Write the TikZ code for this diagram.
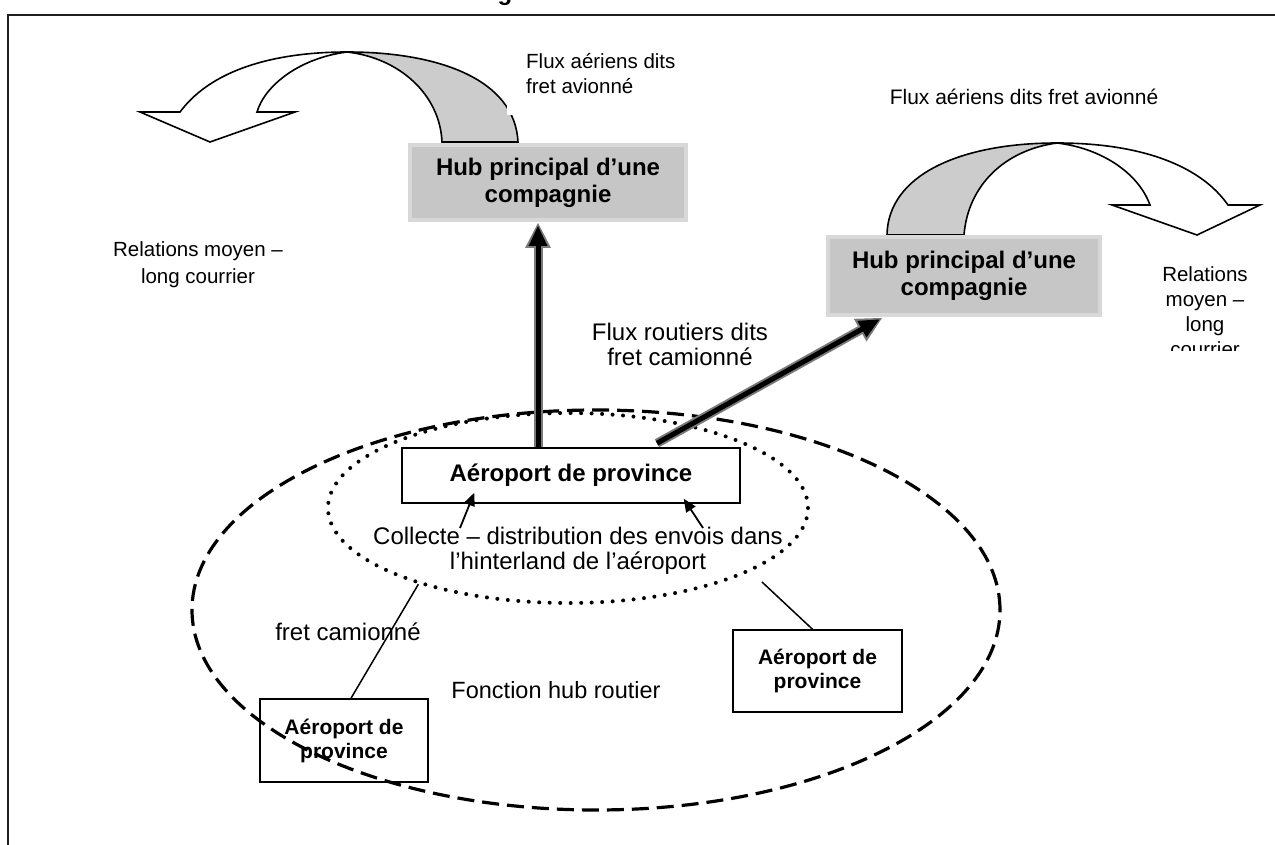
\documentclass[tikz,border=0pt]{standalone}
\usepackage{fontspec}
\setmainfont{Liberation Sans}
\usetikzlibrary{shapes.geometric,arrows.meta,calc}
\definecolor{hubgray}{HTML}{C6C6C6}
\definecolor{hubedge}{HTML}{D8D8D8}
\definecolor{arrowgray}{HTML}{CCCCCC}
\definecolor{shadowgray}{HTML}{7A7A7A}
\begin{document}
\begin{tikzpicture}[x=1pt,y=-1pt,
  lbl/.style={align=center,inner sep=0pt,font=\fontsize{24}{25}\selectfont},
  smalllbl/.style={align=center,inner sep=0pt,font=\fontsize{20.5}{25}\selectfont},
  hub/.style={rectangle,fill=hubgray,draw=hubedge,line width=4pt,align=center,
    font=\bfseries\fontsize{24}{27}\selectfont,inner sep=0pt},
  airport/.style={rectangle,fill=white,draw=black,line width=1.5pt,align=center,inner sep=0pt},
  ribbon/.style={draw=black,line width=1.6pt,line join=miter},
  bigshadow/.style={draw=shadowgray,line width=9pt,-{Triangle[length=25pt,width=26pt,line width=0pt]}},
  bigcore/.style={draw=black,line width=5pt,shorten >=3pt,-{Triangle[length=20pt,width=19pt,line width=0pt]}},
  thinarrow/.style={draw=black,line width=1.8pt,-{Triangle[length=13pt,width=11pt]}},
  thinline/.style={draw=black,line width=1.5pt},
  dashedell/.style={ellipse,draw=black,line width=3.2pt,dash pattern=on 17pt off 8pt,inner sep=0pt},
  dottedell/.style={ellipse,draw=black,line width=4pt,line cap=round,dash pattern=on 0pt off 10.5pt,inner sep=0pt}
]
\useasboundingbox (0,0) rectangle (1275,845);
\clip (0,0) rectangle (1275,845);

% page frame and cut title
\draw[line width=2.5pt,draw=black!88] (8,880) -- (8,15) -- (1300,15);
\node[anchor=base,inner sep=0pt,font=\bfseries\fontsize{24}{24}\selectfont] (titlefrag) at (505,1) {g};

% left curved arrow (ribbon)
\filldraw[ribbon,fill=arrowgray] (442,142) .. controls (440,95) and (400,58) .. (347,52)
   .. controls (440,52) and (515,80) .. (518,142) -- cycle;
\filldraw[ribbon,fill=white] (347,52) .. controls (300,58) and (265,85) .. (257,112)
   -- (295,112) -- (210,142) -- (140,112) -- (180,112)
   .. controls (215,65) and (285,52) .. (347,52) -- cycle;

% right curved arrow (ribbon)
\filldraw[ribbon,fill=arrowgray] (887,235) .. controls (888,175) and (960,143) .. (1057,143)
   .. controls (1005,150) and (968,185) .. (964,235) -- cycle;
\filldraw[ribbon,fill=white] (1057,143) .. controls (1100,148) and (1138,172) .. (1150,205)
   -- (1112,205) -- (1197,235) -- (1260,205) -- (1228,205)
   .. controls (1200,165) and (1140,143) .. (1057,143) -- cycle;

% labels of the air flows
\node[smalllbl,align=left,fill=white,inner xsep=19pt,inner ysep=21pt,anchor=south west] (fluxL) at (507,115) {Flux aériens dits\\fret avionné};
\node[lbl,font=\fontsize{21}{25}\selectfont] (fluxR) at (1024,97) {Flux aériens dits fret avionné};
\node[smalllbl,font=\fontsize{20.5}{27}\selectfont] (relL) at (198,265) {Relations moyen –\\long courrier};
\begin{scope}
  \clip (1120,255) rectangle (1275,350);
  \node[smalllbl] (relR) at (1205,311.5) {Relations\\moyen –\\long\\courrier};
\end{scope}

% hubs
\node[hub,minimum width=276pt,minimum height=75pt] (hubL) at (548,182.5) {Hub principal d’une\\compagnie};
\node[hub,minimum width=272pt,minimum height=78pt] (hubR) at (964,276) {Hub principal d’une\\compagnie};

% airports
\node[airport,minimum width=338pt,minimum height=55pt,font=\bfseries\fontsize{24}{27}\selectfont] (central) at (571,475.5) {Aéroport de province};
\node[airport,minimum width=168pt,minimum height=83pt,font=\bfseries\fontsize{21}{24}\selectfont] (boxLL) at (344,740.5) {Aéroport de\\province};
\node[airport,minimum width=169pt,minimum height=82pt,font=\bfseries\fontsize{21}{24}\selectfont] (boxR) at (817.5,671) {Aéroport de\\province};

% ellipses
\node[dashedell,minimum width=808pt,minimum height=400pt] (hubzone) at (596,610) {};
\node[dottedell,minimum width=480pt,minimum height=190pt] (hinter) at (568,508) {};

% other labels
\node[lbl] (collecte) at (578,551) {Collecte – distribution des envois dans\\l’hinterland de l’aéroport};
\node[lbl] (routiers) at (680,344.5) {Flux routiers dits\\fret camionné};
\node[lbl] (fretcam) at (348,632) {fret camionné};
\node[lbl,font=\fontsize{23.5}{25}\selectfont] (fonction) at (556,690) {Fonction hub routier};

% thin connectors
\draw[thinline] (hinter.207) -- ([xshift=7pt]boxLL.north);
\coordinate (rfree) at (762,582);
\draw[thinline] (rfree) -- ([xshift=-5pt]boxR.north);
\coordinate (ct1) at (460,528);
\coordinate (ct2) at (703,528);
\draw[thinarrow] (ct1) -- ([shift={(73,-11)}]central.south west);
\draw[thinarrow] (ct2) -- ([shift={(-57,-5)}]central.south east);

% big road-flow arrows
\coordinate (vA) at ([xshift=-33pt]central.north);
\coordinate (vB) at ([xshift=-10pt,yshift=-1pt]hubL.south);
\coordinate (dA) at ([xshift=86pt,yshift=4pt]central.north);
\coordinate (dB) at ([xshift=56pt,yshift=-1pt]hubR.south west);
\draw[bigshadow] (vA) -- (vB);
\draw[bigcore] (vA) -- (vB);
\draw[bigshadow] (dA) -- (dB);
\draw[bigcore] (dA) -- (dB);
\end{tikzpicture}
\end{document}
